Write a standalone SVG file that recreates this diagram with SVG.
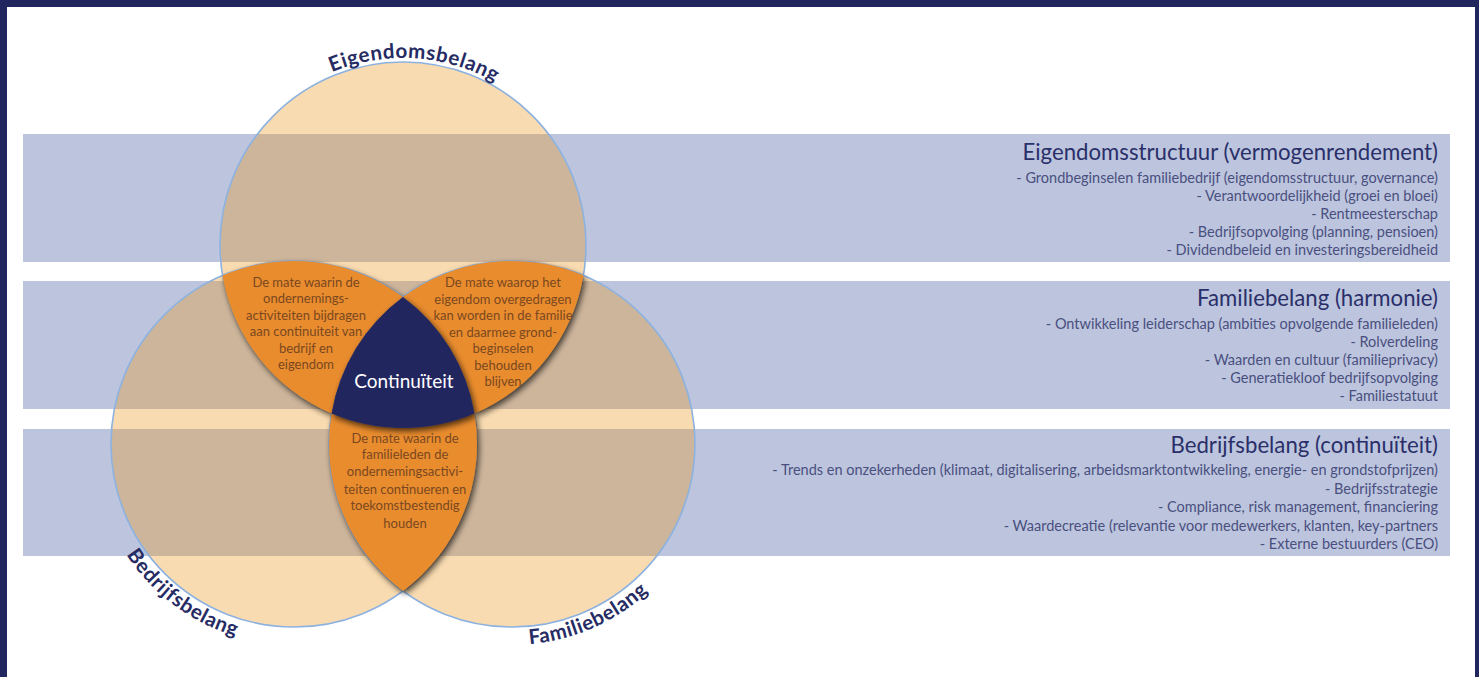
<svg xmlns="http://www.w3.org/2000/svg" width="1479" height="677" viewBox="0 0 1479 677">
<defs>
<style>
.band{fill:#bcc5dd}
.circ{fill:#ee9820;fill-opacity:.35;stroke:#8db2e0;stroke-width:1.6}
.lens{fill:#e98c2e;filter:url(#sh)}
.core{fill:#23275f;filter:url(#sh)}
.lbl{font-family:Lato,"Open Sans","Liberation Sans",sans-serif;font-weight:700;font-size:20.5px;fill:#262b63;letter-spacing:.6px}
.hd{font-family:Lato,"Open Sans","Liberation Sans",sans-serif;font-size:22.2px;fill:#2a2f6a;text-anchor:end}
.it{font-family:Lato,"Open Sans","Liberation Sans",sans-serif;font-size:14.5px;fill:#4a4f80;text-anchor:end}
.lt{font-family:Lato,"Open Sans","Liberation Sans",sans-serif;font-size:13px;fill:#7a4820;text-anchor:middle}
.ct{font-family:Lato,"Open Sans","Liberation Sans",sans-serif;font-size:19px;fill:#ffffff;text-anchor:middle}
</style>
<filter id="sh" x="-20%" y="-20%" width="140%" height="140%">
<feGaussianBlur in="SourceAlpha" stdDeviation="3"/>
<feOffset dx="2" dy="3"/>
<feComponentTransfer><feFuncA type="linear" slope="0.7"/></feComponentTransfer>
<feMerge><feMergeNode/><feMergeNode in="SourceGraphic"/></feMerge>
</filter>
<path id="arcTop" d="M227.3,181 A187,187 0 0 1 578.7,181"/>
<path id="arcLeft" d="M93,444 A201,201 0 0 0 328.9,641.9"/>
<path id="arcRight" d="M443.3,632.9 A201,201 0 0 0 710,478.9"/>
</defs>

<g id="frame">
<rect x="0" y="0" width="1479" height="677" fill="#ffffff"/>
<rect x="0" y="0" width="1479" height="7" fill="#22265e"/>
<rect x="0" y="0" width="7" height="677" fill="#22265e"/>
<rect x="1475" y="0" width="4" height="677" fill="#22265e"/>
</g>

<g id="bands">
<rect class="band" x="23" y="134" width="1427" height="128"/>
<rect class="band" x="23" y="281" width="1427" height="128"/>
<rect class="band" x="23" y="429" width="1427" height="127"/>
</g>

<g id="circle-eigendomsbelang">
<circle class="circ" cx="403" cy="245" r="183"/>
<text class="lbl"><textPath href="#arcTop" startOffset="240" text-anchor="middle">Eigendomsbelang</textPath></text>
</g>
<g id="circle-bedrijfsbelang">
<circle class="circ" cx="294" cy="444" r="183"/>
<text class="lbl"><textPath href="#arcLeft" startOffset="187" text-anchor="middle">Bedrijfsbelang</textPath></text>
</g>
<g id="circle-familiebelang">
<circle class="circ" cx="512" cy="444" r="183"/>
<text class="lbl"><textPath href="#arcRight" startOffset="154" text-anchor="middle">Familiebelang</textPath></text>
</g>

<g id="lens-eigendom-bedrijf">
<path class="lens" d="M222.6,275.5 A183,183 0 0 1 403,297 A183,183 0 0 0 331.6,413.5 A183,183 0 0 1 222.6,275.5 Z"/>
</g>
<g id="lens-eigendom-familie">
<path class="lens" d="M403,297 A183,183 0 0 1 583.4,275.5 A183,183 0 0 1 474.4,413.5 A183,183 0 0 0 403,297 Z"/>
</g>
<g id="lens-bedrijf-familie">
<path class="lens" d="M331.6,413.5 A183,183 0 0 0 474.4,413.5 A183,183 0 0 1 403,591 A183,183 0 0 1 331.6,413.5 Z"/>
</g>
<g id="continuiteit">
<path class="core" d="M403,297 A183,183 0 0 1 474.4,413.5 A183,183 0 0 1 331.6,413.5 A183,183 0 0 1 403,297 Z"/>
<text class="ct" x="404" y="388">Continuïteit</text>
</g>

<g id="lens-texts">
<text class="lt" x="306" y="286.5">De mate waarin de</text>
<text class="lt" x="306" y="303">ondernemings-</text>
<text class="lt" x="306" y="319.5">activiteiten bijdragen</text>
<text class="lt" x="306" y="336">aan continuiteit van</text>
<text class="lt" x="306" y="352.5">bedrijf en</text>
<text class="lt" x="306" y="369">eigendom</text>

<text class="lt" x="503" y="287">De mate waarop het</text>
<text class="lt" x="503" y="303.5">eigendom overgedragen</text>
<text class="lt" x="503" y="320">kan worden in de familie</text>
<text class="lt" x="503" y="336.5">en daarmee grond-</text>
<text class="lt" x="503" y="353">beginselen</text>
<text class="lt" x="503" y="369.5">behouden</text>
<text class="lt" x="503" y="386">blijven</text>

<text class="lt" x="405" y="442.5">De mate waarin de</text>
<text class="lt" x="405" y="459">familieleden de</text>
<text class="lt" x="405" y="476">ondernemingsactivi-</text>
<text class="lt" x="405" y="493.5">teiten continueren en</text>
<text class="lt" x="405" y="510">toekomstbestendig</text>
<text class="lt" x="405" y="527.5">houden</text>
</g>

<g id="block-eigendomsstructuur">
<text class="hd" x="1438" y="160">Eigendomsstructuur (vermogenrendement)</text>
<text class="it" x="1438" y="183">- Grondbeginselen familiebedrijf (eigendomsstructuur, governance)</text>
<text class="it" x="1438" y="201">- Verantwoordelijkheid (groei en bloei)</text>
<text class="it" x="1438" y="219">- Rentmeesterschap</text>
<text class="it" x="1438" y="237">- Bedrijfsopvolging (planning, pensioen)</text>
<text class="it" x="1438" y="255">- Dividendbeleid en investeringsbereidheid</text>
</g>

<g id="block-familiebelang">
<text class="hd" x="1438" y="306">Familiebelang (harmonie)</text>
<text class="it" x="1438" y="329">- Ontwikkeling leiderschap (ambities opvolgende familieleden)</text>
<text class="it" x="1438" y="347">- Rolverdeling</text>
<text class="it" x="1438" y="365">- Waarden en cultuur (familieprivacy)</text>
<text class="it" x="1438" y="383">- Generatiekloof bedrijfsopvolging</text>
<text class="it" x="1438" y="401">- Familiestatuut</text>
</g>

<g id="block-bedrijfsbelang">
<text class="hd" x="1438" y="453">Bedrijfsbelang (continuïteit)</text>
<text class="it" x="1438" y="475">- Trends en onzekerheden (klimaat, digitalisering, arbeidsmarktontwikkeling, energie- en grondstofprijzen)</text>
<text class="it" x="1438" y="493.5">- Bedrijfsstrategie</text>
<text class="it" x="1438" y="512">- Compliance, risk management, financiering</text>
<text class="it" x="1438" y="530.5">- Waardecreatie (relevantie voor medewerkers, klanten, key-partners</text>
<text class="it" x="1438" y="549">- Externe bestuurders (CEO)</text>
</g>

<g id="connectors"></g>
</svg>
